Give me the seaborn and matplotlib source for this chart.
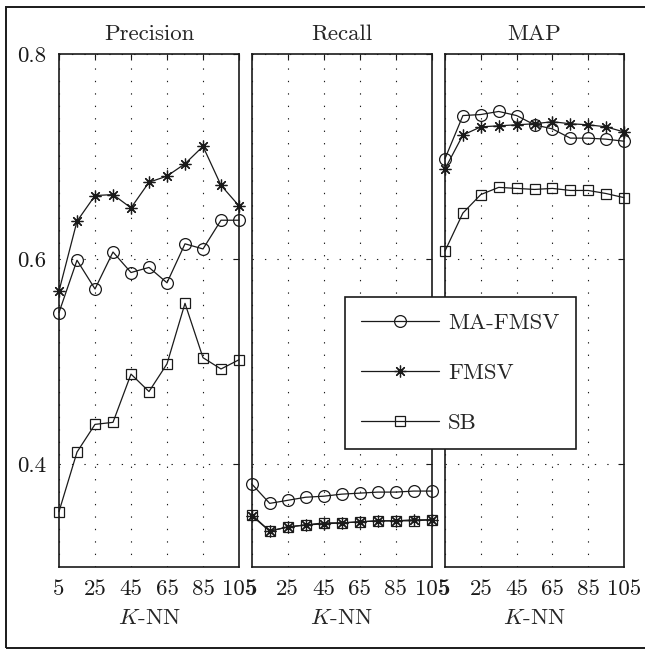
import pandas as pd
import seaborn as sns
import matplotlib.pyplot as plt
from matplotlib.patches import Rectangle

# K-NN values on the x axis
k_nn = [5, 15, 25, 35, 45, 55, 65, 75, 85, 95, 105]
methods = ["MA-FMSV", "FMSV", "SB"]
metrics = ["Precision", "Recall", "MAP"]
x_ticks = [5, 25, 45, 65, 85, 105]
y_ticks = [0.4, 0.6, 0.8]
y_tick_labels = ["0.4", "0.6", "0.8"]

# values
precision_ma = [0.548, 0.599, 0.571, 0.607, 0.587, 0.592, 0.577, 0.615, 0.610, 0.638, 0.638]
precision_fmsv = [0.569, 0.637, 0.662, 0.663, 0.650, 0.675, 0.681, 0.693, 0.710, 0.672, 0.652]
precision_sb = [0.354, 0.412, 0.439, 0.441, 0.488, 0.471, 0.498, 0.557, 0.504, 0.493, 0.502]

recall_ma = [0.381, 0.362, 0.365, 0.368, 0.369, 0.371, 0.372, 0.373, 0.373, 0.374, 0.374]
recall_fmsv = [0.350, 0.335, 0.339, 0.341, 0.342, 0.343, 0.344, 0.345, 0.345, 0.346, 0.346]
recall_sb = [0.351, 0.335, 0.339, 0.341, 0.343, 0.343, 0.344, 0.345, 0.345, 0.345, 0.346]

map_ma = [0.698, 0.740, 0.741, 0.744, 0.740, 0.731, 0.727, 0.718, 0.718, 0.717, 0.715]
map_fmsv = [0.688, 0.721, 0.729, 0.730, 0.731, 0.732, 0.734, 0.732, 0.731, 0.729, 0.724]
map_sb = [0.608, 0.645, 0.663, 0.670, 0.669, 0.668, 0.669, 0.667, 0.667, 0.664, 0.660]

series = {
    "Precision": [precision_ma, precision_fmsv, precision_sb],
    "Recall": [recall_ma, recall_fmsv, recall_sb],
    "MAP": [map_ma, map_fmsv, map_sb],
}

rows = []
for metric in metrics:
    for method, vals in zip(methods, series[metric]):
        for kk, v in zip(k_nn, vals):
            rows.append({"metric": metric, "method": method, "k": kk, "value": v})
df = pd.DataFrame(rows)

sns.set_theme(style="white")
plt.rcParams["font.family"] = ["cmr10", "DejaVu Serif"]
plt.rcParams["mathtext.fontset"] = "cm"
plt.rcParams["axes.unicode_minus"] = False

marker_map = {"MA-FMSV": "o", "FMSV": (8, 2, 0), "SB": "s"}
marker_size = {"MA-FMSV": 8.5, "FMSV": 8.5, "SB": 7.5}

fig = plt.figure(figsize=(6.45, 6.5), dpi=100)
W, H = 645, 650
lefts = [59, 251.7, 445]
widths = [180, 180, 179]
top, bottom = 54, 567

axes = []
for i, metric in enumerate(metrics):
    ax = fig.add_axes([lefts[i] / W, 1 - bottom / H, widths[i] / W, (bottom - top) / H])
    axes.append(ax)
    sub = df[df["metric"] == metric]
    for method in methods:
        sns.lineplot(data=sub[sub["method"] == method], x="k", y="value", ax=ax,
                     color="k", lw=0.9, marker=marker_map[method],
                     markersize=marker_size[method], markerfacecolor="none",
                     markeredgecolor="k", markeredgewidth=0.9,
                     errorbar=None, legend=False, clip_on=False, label=method)
    ax.set_xlim(5, 105)
    ax.set_ylim(0.3, 0.8)
    ax.set_xticks(x_ticks)
    ax.set_xticklabels([str(t) for t in x_ticks])
    ax.set_yticks(y_ticks)
    if i == 0:
        ax.set_yticklabels(y_tick_labels)
    else:
        ax.set_yticklabels([])
    ax.grid(True, color="k", lw=0.8, linestyle=(0, (1.2, 10)))
    ax.tick_params(direction="in", length=4, width=0.8, top=True, right=True,
                   labelsize=16.5, pad=9, colors="k")
    for s in ax.spines.values():
        s.set_color("k")
        s.set_linewidth(1.2)
    ax.set_title(metric, fontsize=16.5, pad=10)
    ax.set_xlabel("$K$-NN", fontsize=16.5, labelpad=7)
    ax.set_ylabel("")

handles = axes[0].get_lines()[:3]
leg = fig.legend(handles, methods, loc="upper left",
                 bbox_to_anchor=(345 / W, 1 - 297 / H), borderaxespad=0,
                 fontsize=16.5, handlelength=3.4, handletextpad=0.4,
                 labelspacing=1.3, borderpad=0.7, fancybox=False,
                 framealpha=1, edgecolor="k")
leg.get_frame().set_linewidth(1.2)

fig.patches.append(Rectangle((6 / W, 2 / H), 1.01, (648 - 7) / H, fill=False,
                             edgecolor="k", lw=1.4, transform=fig.transFigure))

fig.savefig("out.png", dpi=100)
